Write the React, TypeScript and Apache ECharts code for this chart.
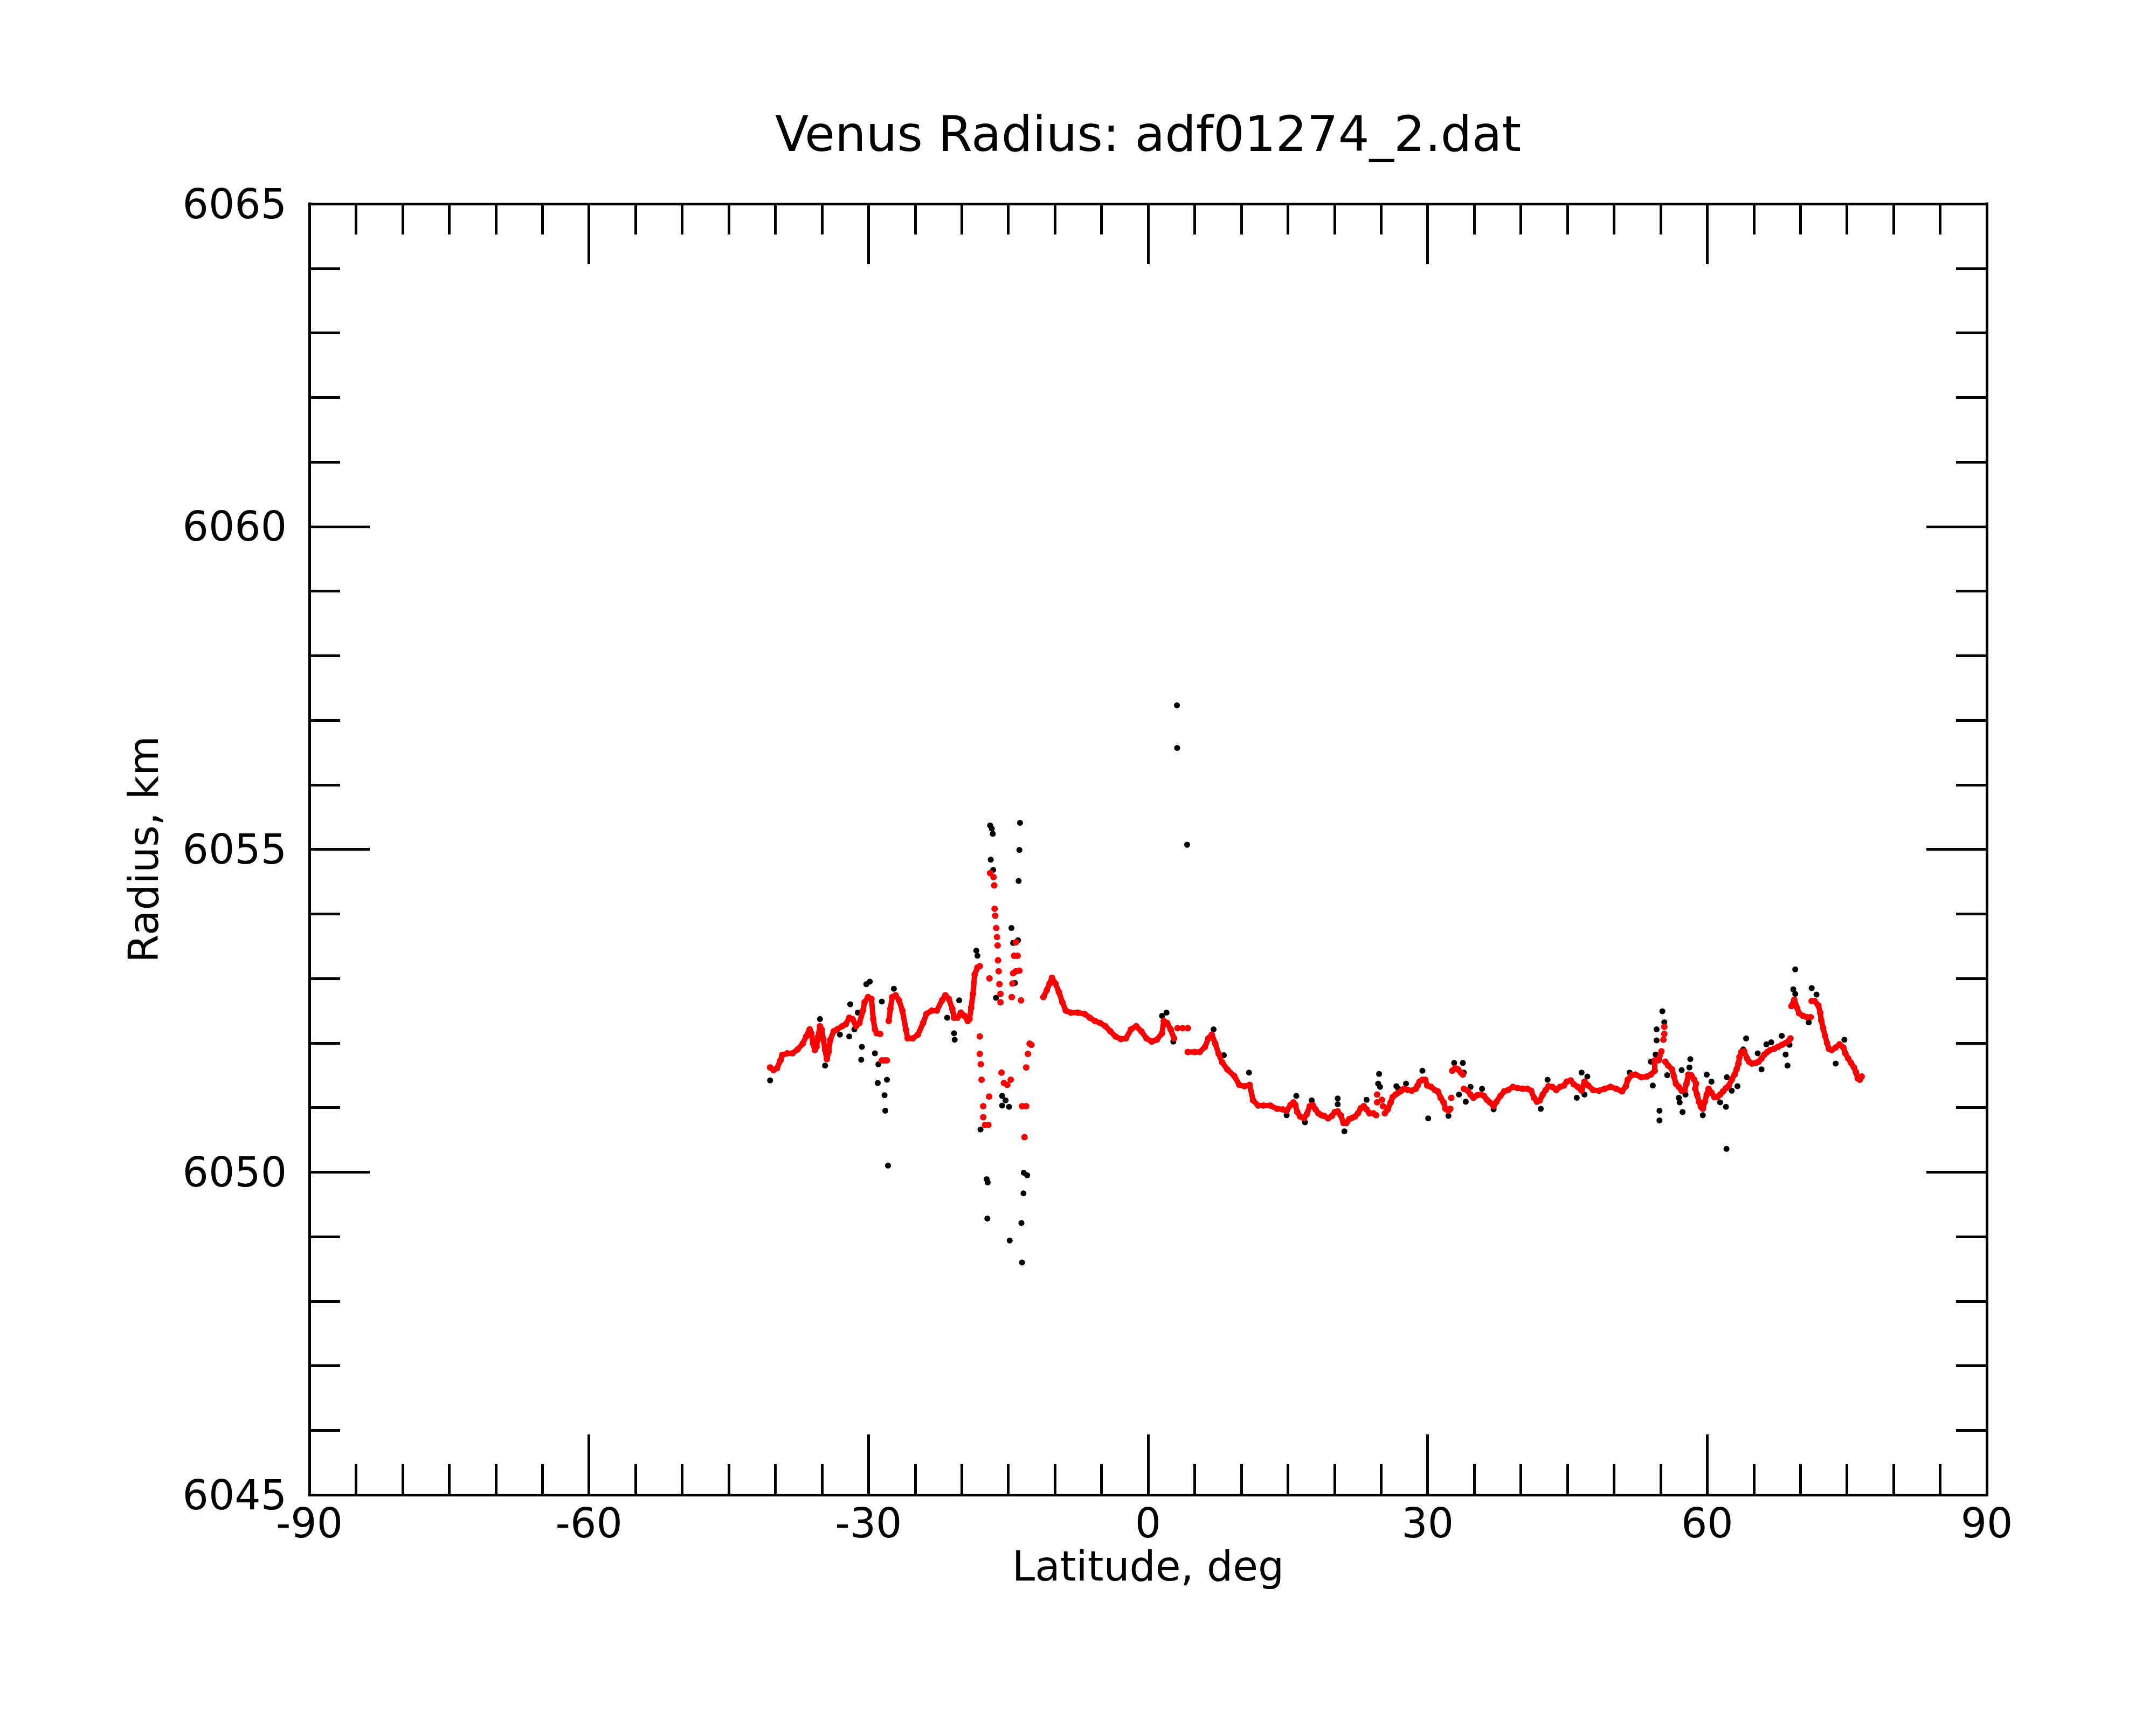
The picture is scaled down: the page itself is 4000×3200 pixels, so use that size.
import React, { useEffect, useRef } from "react";
import * as echarts from "echarts";

// ---- axis setup ----
const xMin = -90, xMax = 90, xStep = 30;
const yMin = 6045, yMax = 6065, yStep = 5;
const titleText = "Venus Radius: adf01274_2.dat";
const xName = "Latitude, deg";
const yName = "Radius, km";

// ---- red (smoothed) trace, continuous pieces [lat, radius] ----
const redSegA = [[-40.56,6051.62],[-40.19,6051.58],[-39.82,6051.61],[-39.45,6051.73],[-39.27,6051.81],[-38.72,6051.84],[-38.16,6051.84],[-37.61,6051.90],[-37.06,6051.99],[-36.69,6052.10],[-36.32,6052.21],[-36.13,6052.15],[-35.95,6051.99],[-35.76,6051.89],[-35.58,6051.94],[-35.40,6052.10],[-35.21,6052.26],[-35.03,6052.21],[-34.84,6052.05],[-34.66,6051.89],[-34.47,6051.75],[-34.29,6051.86],[-34.10,6052.05],[-33.74,6052.18],[-33.37,6052.21],[-32.81,6052.26],[-32.44,6052.29],[-32.07,6052.39],[-31.71,6052.37],[-31.34,6052.26],[-30.97,6052.31],[-30.60,6052.50],[-30.42,6052.63],[-30.05,6052.71],[-29.68,6052.68],[-29.49,6052.37],[-29.31,6052.21],[-29.12,6052.15],[-28.75,6052.14]];
const redSegB = [[-27.83,6052.34],[-27.65,6052.53],[-27.46,6052.71],[-27.09,6052.74],[-26.73,6052.66],[-26.36,6052.50],[-25.99,6052.21],[-25.80,6052.07],[-25.25,6052.07],[-24.70,6052.13],[-24.14,6052.31],[-23.78,6052.45],[-23.22,6052.50],[-22.67,6052.50],[-22.11,6052.66],[-21.75,6052.74],[-21.38,6052.68],[-21.01,6052.53],[-20.82,6052.39],[-20.45,6052.39],[-20.09,6052.47],[-19.72,6052.42],[-19.35,6052.34],[-19.16,6052.37],[-18.98,6052.55],[-18.79,6052.76],[-18.61,6053.06],[-18.31,6053.17],[-18.06,6053.19]];
const redSegC = [[-11.23,6052.71],[-10.86,6052.82],[-10.57,6052.92],[-10.31,6053.01],[-9.94,6052.92],[-9.57,6052.79],[-9.20,6052.63],[-8.83,6052.50],[-8.28,6052.47],[-7.54,6052.47],[-6.81,6052.45],[-6.25,6052.39],[-5.70,6052.34],[-5.15,6052.31],[-4.59,6052.26],[-4.04,6052.18],[-3.49,6052.10],[-2.93,6052.06],[-2.38,6052.07],[-1.83,6052.21],[-1.27,6052.26],[-0.72,6052.18],[-0.17,6052.07],[0.39,6052.02],[0.94,6052.05],[1.50,6052.15],[1.68,6052.34],[2.05,6052.31],[2.42,6052.21],[2.79,6052.07]];
const redSegD = [[4.26,6051.86],[5.00,6051.86],[5.55,6051.86],[6.11,6051.94],[6.47,6052.07],[6.84,6052.13],[7.21,6051.99],[7.58,6051.83],[7.95,6051.70],[8.50,6051.59],[9.24,6051.49],[9.79,6051.35],[10.35,6051.33],[10.90,6051.35],[11.27,6051.11],[11.82,6051.03],[12.38,6051.03],[13.12,6051.03],[13.85,6050.98],[14.46,6050.97],[14.87,6050.95],[15.29,6051.04],[15.60,6051.08],[15.80,6051.04],[16.01,6050.93],[16.32,6050.86],[16.73,6050.83],[17.04,6050.90],[17.35,6051.02],[17.66,6051.04],[17.97,6050.97],[18.28,6050.91],[18.59,6050.88],[18.90,6050.87],[19.32,6050.83],[19.73,6050.87],[20.04,6050.93],[20.35,6050.94],[20.66,6050.88],[20.97,6050.76],[21.28,6050.76],[21.59,6050.82],[21.90,6050.84],[22.21,6050.86],[22.52,6050.91],[22.83,6050.99],[23.14,6051.02],[23.45,6050.97],[23.76,6050.91],[24.17,6050.91],[24.48,6050.88]];
const redSegE = [[25.41,6050.91],[25.72,6050.97],[26.03,6051.08],[26.24,6051.16],[26.55,6051.20],[26.86,6051.23],[27.17,6051.26],[27.48,6051.29],[27.89,6051.27],[28.30,6051.26],[28.72,6051.29],[28.92,6051.34],[29.13,6051.40],[29.44,6051.43],[29.75,6051.43],[29.96,6051.34],[30.37,6051.32],[30.78,6051.27],[31.09,6051.25],[31.40,6051.15],[31.71,6051.08],[31.92,6050.98],[32.23,6050.95],[32.43,6050.98]];
const redSegF = [[32.64,6051.57],[32.95,6051.61],[33.26,6051.59],[33.57,6051.54],[33.78,6051.51]];
const redSegG = [[33.88,6051.29],[34.29,6051.26],[34.60,6051.20],[34.91,6051.15],[35.33,6051.19],[35.74,6051.20],[36.05,6051.18],[36.36,6051.12],[36.67,6051.08],[37.08,6051.02],[37.39,6051.09],[37.81,6051.18],[38.22,6051.25],[38.63,6051.27],[39.15,6051.32],[39.66,6051.30],[40.18,6051.29],[40.70,6051.29],[41.11,6051.26],[41.42,6051.15],[41.73,6051.09],[42.04,6051.11],[42.35,6051.20],[42.66,6051.27],[42.97,6051.33],[43.38,6051.32],[43.80,6051.27],[44.21,6051.32],[44.62,6051.34],[44.93,6051.40],[45.35,6051.42],[45.69,6051.36],[46.10,6051.32],[46.52,6051.26],[46.83,6051.40],[47.24,6051.34],[47.76,6051.27],[48.38,6051.26],[49.00,6051.29],[49.62,6051.32],[50.24,6051.29],[50.86,6051.25],[51.27,6051.33],[51.48,6051.43],[51.89,6051.50],[52.30,6051.51],[52.92,6051.47],[53.54,6051.48],[53.95,6051.51],[54.37,6051.57],[54.37,6051.73],[54.78,6051.73],[55.09,6051.87]];
const redSegH = [[55.50,6051.71],[55.81,6051.65],[56.23,6051.59],[56.43,6051.48],[56.64,6051.37],[56.95,6051.32],[57.26,6051.26],[57.57,6051.27],[57.78,6051.37],[57.98,6051.51],[58.29,6051.50],[58.60,6051.43],[58.81,6051.37],[58.71,6051.29],[58.91,6051.20],[59.12,6051.09],[59.33,6051.01],[59.53,6050.98],[59.74,6051.09],[59.95,6051.20],[60.15,6051.29],[60.46,6051.23],[60.77,6051.16],[61.08,6051.16],[61.39,6051.20],[61.70,6051.25],[62.01,6051.30],[62.32,6051.34],[62.63,6051.43],[62.94,6051.51],[63.15,6051.59],[63.35,6051.68],[63.46,6051.78],[63.66,6051.86],[63.97,6051.87],[64.28,6051.76],[64.49,6051.71],[64.80,6051.68],[65.21,6051.69],[65.52,6051.71],[65.83,6051.76],[66.14,6051.82],[66.45,6051.86],[66.76,6051.89],[67.18,6051.91],[67.59,6051.94],[68.00,6051.97],[68.42,6052.00],[68.73,6052.03],[68.93,6052.07]];
const redSegI = [[69.04,6052.57],[69.35,6052.67],[69.66,6052.54],[69.86,6052.46],[70.28,6052.42],[70.69,6052.40],[71.10,6052.40]];
const redSegJ = [[71.21,6052.65],[71.52,6052.65],[71.93,6052.58],[72.13,6052.47],[72.24,6052.35],[72.44,6052.23],[72.65,6052.11],[72.86,6052.00],[73.06,6051.91],[73.37,6051.89],[73.79,6051.93],[74.20,6051.98],[74.61,6051.93],[74.82,6051.84],[75.13,6051.76],[75.44,6051.69],[75.75,6051.62],[75.96,6051.55],[76.16,6051.45],[76.37,6051.43],[76.58,6051.48]];

// ---- red isolated points ----
const redSparse = [[-28.57,6051.73],[-28.30,6051.73],[-28.02,6051.73],
[-18.06,6052.10],[-18.06,6051.83],[-17.95,6051.67],[-17.87,6051.43],[-17.06,6051.17],[-17.69,6051.02],[-17.69,6050.85],[-17.50,6050.73],[-17.14,6050.73],[-17.02,6053.00],
[-16.95,6054.63],[-16.58,6054.57],[-16.51,6054.44],[-16.47,6054.08],[-16.40,6053.97],[-16.29,6053.78],[-16.21,6053.64],[-16.14,6053.51],[-16.10,6053.28],[-16.03,6053.11],[-15.95,6052.91],[-15.84,6052.76],[-15.84,6052.63],
[-15.73,6051.54],[-15.47,6051.38],[-15.11,6051.35],[-14.74,6051.43],
[-14.63,6052.71],[-14.55,6052.92],[-14.48,6053.08],[-14.18,6053.11],[-13.81,6053.12],[-14.37,6053.35],[-14.00,6053.35],[-14.18,6053.56],[-13.63,6052.66],
[-13.52,6051.02],[-13.08,6051.02],[-13.26,6050.54],[-13.08,6051.62],[-12.89,6051.83],[-12.71,6051.99],[-12.52,6051.97],
[3.16,6052.23],[3.71,6052.23],[4.26,6052.23],
[24.58,6051.20],[24.58,6051.08],[25.10,6051.12],[25.20,6051.02],[32.54,6051.15],
[55.30,6052.05],[55.40,6052.14],[55.40,6052.25]];

// ---- black (raw) points that stand apart from the red trace ----
const blackPts = [[-40.56,6051.42],[-35.21,6052.37],[-34.66,6051.65],[-33.07,6052.13],[-32.07,6052.10],[-31.96,6052.60],[-31.52,6052.21],[-31.15,6052.47],[-30.71,6051.94],[-30.78,6051.74],[-30.23,6052.91],[-29.86,6052.95],[-29.31,6051.84],[-28.94,6051.67],[-29.01,6051.38],[-28.57,6052.64],[-28.20,6050.95],[-28.02,6051.43],[-28.28,6051.19],[-27.91,6050.10],[-27.28,6052.84],[-21.56,6052.39],[-20.82,6052.15],[-20.75,6052.05],[-20.27,6052.66],[-18.43,6053.43],[-18.31,6053.35],[-17.98,6050.66],[-17.32,6049.89],[-17.21,6049.84],[-17.25,6049.28],[-16.95,6055.37],[-16.77,6055.32],[-16.66,6055.24],[-16.88,6054.84],[-16.62,6054.68],[-16.32,6052.70],[-15.66,6051.18],[-15.29,6051.11],[-15.66,6051.03],[-14.92,6051.01],[-14.85,6048.94],[-14.66,6053.78],[-14.48,6053.55],[-14.29,6052.93],[-13.96,6053.59],[-13.89,6054.51],[-13.81,6054.99],[-13.74,6055.41],[-13.52,6048.60],[-13.59,6049.21],[-13.37,6049.67],[-13.34,6049.99],[-12.97,6049.95],[1.50,6052.42],[1.98,6052.47],[2.71,6052.02],[3.10,6057.23],[3.12,6056.57],[4.19,6055.07],[7.03,6052.21],[8.13,6051.81],[10.83,6051.54],
[14.87,6050.88],[15.91,6051.18],[16.84,6050.77],[17.56,6051.11],[20.35,6051.14],[20.35,6051.05],[21.07,6050.63],[23.45,6051.12],[24.79,6051.52],[24.69,6051.37],[24.89,6051.32],[26.65,6051.33],[26.86,6051.29],[27.68,6051.37],[29.44,6051.57],[30.06,6050.83],[32.23,6050.87],[32.85,6051.69],[33.78,6051.69],[33.88,6051.54],[33.36,6051.20],[34.09,6051.09],[34.60,6051.32],[35.84,6051.29],[37.08,6050.97],[42.14,6050.98],[42.87,6051.43],
[46.52,6051.54],[47.14,6051.48],[46.00,6051.15],[46.83,6051.20],[51.68,6051.54],[54.16,6051.34],[53.95,6051.71],[54.47,6051.82],[54.57,6052.04],[54.57,6052.21],[55.19,6052.49],[55.40,6052.32],[55.71,6051.50],[54.88,6050.95],[54.88,6050.80],[56.95,6051.15],[57.05,6051.08],[58.19,6051.75],[58.09,6051.62],[57.26,6051.58],[57.67,6051.20],[57.36,6050.93],[59.95,6051.51],[60.46,6051.40],[59.53,6050.88],[61.39,6051.08],[62.01,6051.01],[62.11,6051.47],[62.63,6051.26],[63.25,6051.33],[64.18,6052.07],[63.87,6051.90],[65.42,6051.84],[65.83,6051.59],[66.35,6051.98],[66.87,6052.01],[68.00,6052.11],[68.42,6051.82],[68.62,6051.65],[69.45,6053.14],[69.24,6052.83],[69.45,6052.76],[70.90,6052.32],[71.21,6052.85],[71.73,6052.75],[74.72,6052.05],[73.79,6051.68],[62.07,6050.36],[68.83,6051.97]];

const redSegments = [redSegA, redSegB, redSegC, redSegD, redSegE, redSegF, redSegG, redSegH, redSegI, redSegJ];

const FONT = "DejaVu Sans";
const BLACK = "#000000";
const RED = "#ff0000";

const plainNumber = (v: number) => String(v);

function makeXAxis(position: "bottom" | "top", showLabels: boolean) {
  return {
    type: "value",
    position,
    min: xMin,
    max: xMax,
    interval: xStep,
    axisLine: { show: true, onZero: false, lineStyle: { color: BLACK, width: 5, cap: "square" } },
    axisTick: { show: true, inside: true, length: 112, lineStyle: { color: BLACK, width: 5 } },
    minorTick: { show: true, splitNumber: 6, length: 57, lineStyle: { color: BLACK, width: 5 } },
    splitLine: { show: false },
    minorSplitLine: { show: false },
    axisLabel: { show: showLabels, color: BLACK, fontSize: 76, fontFamily: FONT, margin: 14, formatter: plainNumber },
    name: showLabels ? xName : "",
    nameLocation: "middle",
    nameGap: 92,
    nameTextStyle: { color: BLACK, fontSize: 76, fontFamily: FONT },
  };
}

function makeYAxis(position: "left" | "right", showLabels: boolean) {
  return {
    type: "value",
    position,
    min: yMin,
    max: yMax,
    interval: yStep,
    axisLine: { show: true, onZero: false, lineStyle: { color: BLACK, width: 5, cap: "square" } },
    axisTick: { show: true, inside: true, length: 112, lineStyle: { color: BLACK, width: 5 } },
    minorTick: { show: true, splitNumber: 5, length: 57, lineStyle: { color: BLACK, width: 5 } },
    splitLine: { show: false },
    minorSplitLine: { show: false },
    axisLabel: { show: showLabels, color: BLACK, fontSize: 76, fontFamily: FONT, margin: 42, formatter: plainNumber },
    name: showLabels ? yName : "",
    nameLocation: "middle",
    nameGap: 270,
    nameTextStyle: { color: BLACK, fontSize: 76, fontFamily: FONT },
  };
}

export default function App() {
  const ref = useRef<HTMLDivElement>(null);

  useEffect(() => {
    if (!ref.current) return;
    const chart = echarts.init(ref.current, undefined, { renderer: "svg" });

    const series: any[] = [
      {
        type: "scatter",
        data: blackPts,
        symbol: "circle",
        symbolSize: 11,
        itemStyle: { color: BLACK, opacity: 1 },
        silent: true,
        z: 2,
      },
    ];
    redSegments.forEach((seg) => {
      series.push({
        type: "line",
        data: seg,
        symbol: "circle",
        symbolSize: 12,
        showSymbol: true,
        showAllSymbol: true,
        lineStyle: { color: RED, width: 10, opacity: 1 },
        itemStyle: { color: RED, borderWidth: 0, opacity: 1 },
        silent: true,
        z: 3,
      });
    });
    series.push({
      type: "scatter",
      data: redSparse,
      symbol: "circle",
      symbolSize: 12,
      itemStyle: { color: RED, opacity: 1 },
      silent: true,
      z: 3,
    });

    chart.setOption({
      animation: false,
      backgroundColor: "#ffffff",
      grid: { left: 574, top: 378, right: 314, bottom: 427, containLabel: false },
      xAxis: [makeXAxis("bottom", true), makeXAxis("top", false)],
      yAxis: [makeYAxis("left", true), makeYAxis("right", false)],
      graphic: [
        {
          type: "text",
          x: 2130,
          y: 248,
          style: {
            text: titleText,
            fontSize: 91,
            fontFamily: FONT,
            fill: BLACK,
            align: "center",
            verticalAlign: "middle",
          },
        },
      ],
      series,
    });

    return () => chart.dispose();
  }, []);

  return (
    <div
      ref={ref}
      style={{ position: "fixed", left: 0, top: 0, width: "4000px", height: "3200px", background: "#fff" }}
    />
  );
}
